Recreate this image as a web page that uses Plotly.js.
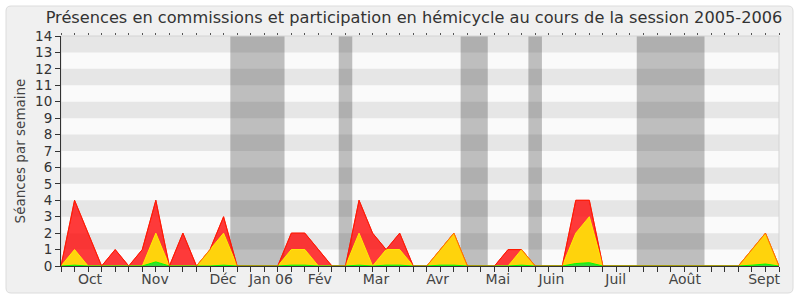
<!DOCTYPE html>
<html>
<head>
<meta charset="utf-8">
<script src="https://cdn.plot.ly/plotly-3.0.1.min.js"></script>
<style>html,body{margin:0;padding:0;background:#fff;}#chart{width:800px;height:300px;}</style>
</head>
<body>
<div id="chart"></div>
<script>
// Week index (one point per week, session 2005-2006)
const weeks = [0,1,2,3,4,5,6,7,8,9,10,11,12,13,14,15,16,17,18,19,20,21,22,23,24,25,26,
  27,28,29,30,31,32,33,34,35,36,37,38,39,40,41,42,43,44,45,46,47,48,49,50,51,52,53];
// Total (red): commissions + hémicycle
const totalVals = [0,4,2,0,1,0,1,4,0,2,0,1,3,0,0,0,0,2,2,1,0,0,4,2,1,2,0,
  0,1,2,0,0,0,1,1,0,0,0,4,4,0,0,0,0,0,0,0,0,0,0,0,1,2,0];
// Yellow layer
const yellowVals = [0,1,0,0,0,0,0,2,0,0,0,1,2,0,0,0,0,1,1,0,0,0,2,0,1,1,0,
  0,1,2,0,0,0,0,1,0,0,0,2,3,0,0,0,0,0,0,0,0,0,0,0,1,2,0];
// Green layer
const greenVals = [0,0.05,0,0,0,0,0,0.25,0,0,0,0,0.05,0,0,0,0,0.05,0.05,0,0,0,0.05,0,0.05,0.05,0,
  0,0.05,0.05,0,0,0,0,0.05,0,0,0,0.15,0.2,0,0,0,0,0,0,0,0,0,0,0,0.05,0.12,0];
// Month labels
const monthLabels = ['Oct','Nov','Déc','Jan 06','Fév','Mar','Avr','Mai','Juin','Juil','Août','Sept'];
const monthPos = [2.14,6.94,11.96,15.5,19.1,23.25,27.8,32.25,36.2,40.95,46.05,51.9];
// Recess periods (shaded bands)
const recess = [[12.5,16.5],[20.5,21.5],[29.5,31.5],[34.5,35.5],[42.5,47.5]];
const yTicks = [0,1,2,3,4,5,6,7,8,9,10,11,12,13,14];

const W = 800, H = 300, ML = 61, MR = 21, MT = 36, MB = 34;
const PW = W - ML - MR, PH = H - MT - MB;
const px = v => (v - ML) / PW;
const py = v => (H - MB - v) / PH;

function roundRect(x0, y0, x1, y1, r) {
  const rx = r / PW, ry = r / PH;
  const X0 = px(x0), X1 = px(x1), Y0 = py(y0), Y1 = py(y1);
  return `M${X0 + rx},${Y0} L${X1 - rx},${Y0} Q${X1},${Y0} ${X1},${Y0 - ry} ` +
    `L${X1},${Y1 + ry} Q${X1},${Y1} ${X1 - rx},${Y1} L${X0 + rx},${Y1} ` +
    `Q${X0},${Y1} ${X0},${Y1 + ry} L${X0},${Y0 - ry} Q${X0},${Y0} ${X0 + rx},${Y0} Z`;
}

const shapes = [];
shapes.push({type:'path', xref:'paper', yref:'paper', layer:'below',
  path: roundRect(6, 6, 793, 293, 5), fillcolor:'#f0f0f0', line:{color:'#dcdcdc', width:1}});
shapes.push({type:'rect', xref:'paper', yref:'paper', layer:'below',
  x0:0, x1:1, y0:0, y1:1, fillcolor:'#fafafa', line:{width:0}});
recess.forEach(r => shapes.push({type:'rect', xref:'x', yref:'paper', layer:'below',
  x0:r[0], x1:r[1], y0:0, y1:1, fillcolor:'#bebebe', line:{width:0}}));
for (let k = 1; k < 14; k += 2) {
  shapes.push({type:'rect', xref:'paper', yref:'y', layer:'below',
    x0:0, x1:1, y0:k, y1:k + 1, fillcolor:'rgba(0,0,0,0.08)', line:{width:0}});
}
shapes.push({type:'rect', xref:'paper', yref:'paper', layer:'below',
  x0:0, x1:1, y0:0, y1:1, fillcolor:'rgba(0,0,0,0)', line:{color:'#d4d4d4', width:1}});

const traces = [
  {x: weeks, y: totalVals, type:'scatter', mode:'lines', fill:'tozeroy',
   fillcolor:'rgba(255,0,0,0.77)', line:{color:'#ff0000', width:1}, hoverinfo:'skip'},
  {x: weeks, y: yellowVals, type:'scatter', mode:'lines', fill:'tozeroy',
   fillcolor:'#ffd30c', line:{color:'#ffee00', width:1}, hoverinfo:'skip'},
  {x: weeks, y: greenVals, type:'scatter', mode:'lines', fill:'tozeroy',
   fillcolor:'#33dd33', line:{color:'#00ff00', width:1}, hoverinfo:'skip'},
  {x: weeks, y: totalVals, type:'scatter', mode:'lines',
   line:{color:'rgba(255,40,0,0.65)', width:1}, hoverinfo:'skip'}
];

const FAM = 'DejaVu Sans, Verdana, sans-serif';
const font = {family:FAM, size:13, color:'#333'};

const layout = {
  width: W, height: H,
  margin: {l: ML, r: MR, t: MT, b: MB, pad: 0},
  paper_bgcolor: '#ffffff',
  plot_bgcolor: 'rgba(0,0,0,0)',
  showlegend: false,
  font: font,
  title: {text: 'Présences en commissions et participation en hémicycle au cours de la session 2005-2006',
    font: {family:FAM, size:16.2, color:'#333'},
    x: 414 / W, xanchor: 'center', xref: 'container', y: 1 - 17 / H, yanchor: 'middle', yref: 'container'},
  xaxis: {range:[0,53], tickmode:'array', tickvals: weeks, showticklabels:false,
    ticks:'outside', ticklen:5, tickcolor:'#333', showgrid:false, zeroline:false,
    showline:true, linecolor:'#333', linewidth:1, fixedrange:true},
  xaxis2: {range:[0,53], overlaying:'x', anchor:'y', side:'bottom', tickmode:'array',
    tickvals: monthPos, ticktext: monthLabels, ticks:'', showgrid:false, zeroline:false,
    showline:false, tickfont:{family:FAM, size:14, color:'#444'},
    ticklabelstandoff: 3, fixedrange:true},
  xaxis3: {range:[0,53], overlaying:'x', anchor:'y', side:'top', tickmode:'array',
    tickvals: weeks, showticklabels:false, ticks:'outside', ticklen:2, tickcolor:'#555',
    showgrid:false, zeroline:false, showline:false, fixedrange:true},
  yaxis: {range:[0,14], tickmode:'array', tickvals: yTicks, ticks:'outside', ticklen:5,
    tickcolor:'#333', showgrid:false, zeroline:false, showline:true, linecolor:'#333',
    tickfont:{family:FAM, size:13.5, color:'#333'},
    title:{text:'Séances par semaine', font:{family:FAM, size:13.5, color:'#444'}, standoff: 6},
    fixedrange:true},
  shapes: shapes
};

// invisible traces to activate the overlay axes
traces.push({x:[0], y:[0], xaxis:'x2', type:'scatter', mode:'markers', marker:{opacity:0}, hoverinfo:'skip'});
traces.push({x:[0], y:[0], xaxis:'x3', type:'scatter', mode:'markers', marker:{opacity:0}, hoverinfo:'skip'});

Plotly.newPlot('chart', traces, layout, {staticPlot:true, displayModeBar:false});
</script>
</body>
</html>
